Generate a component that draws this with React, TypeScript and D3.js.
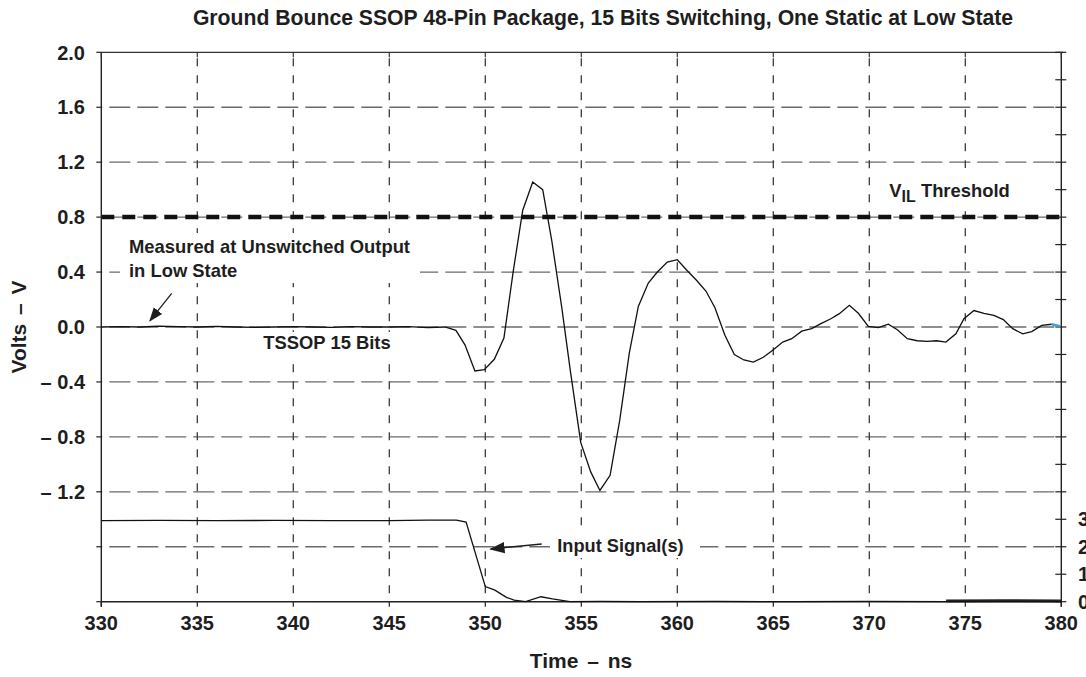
import * as d3 from "d3";

const width = 1086;
const height = 677;

// plot frame
const left = 101.3;
const right = 1061.3;
const top = 52.3;
const bottom = 601.7;

const font = "'Liberation Sans', Arial, Helvetica, sans-serif";
const ink = "#1e1e1e";

const title =
  "Ground Bounce SSOP 48-Pin Package, 15 Bits Switching, One Static at Low State";

const timeTicks = [330, 335, 340, 345, 350, 355, 360, 365, 370, 375, 380];
const voltTicks = [2.0, 1.6, 1.2, 0.8, 0.4, 0.0, -0.4, -0.8, -1.2, -1.6, -2.0];
const voltLabels = ["2.0", "1.6", "1.2", "0.8", "0.4", "0.0", "– 0.4", "– 0.8", "– 1.2", "", ""];
const inputTicks = d3.range(0, 21);
const inputLabels = ["0", "1", "2", "3"];
const thresholdVolts = 0.8;

// ground bounce, measured at the unswitched output (V)
const bounceTime = [
  330, 331, 332, 333, 334, 335, 336, 337, 338, 339, 340, 341, 342, 343, 344, 345, 346, 347,
  347.9, 348.47, 348.94, 349.46, 349.95, 350.47, 350.97, 351.46, 351.95, 352.47, 352.99,
  353.46, 353.98, 354.45, 354.97, 355.49, 355.97, 356.5, 357.0, 357.5, 357.97, 358.49,
  358.96, 359.48, 360.0, 360.52, 361.0, 361.5, 361.96, 362.48, 362.97, 363.47, 363.96,
  364.48, 364.97, 365.49, 365.96, 366.48, 367.0, 367.48, 368.0, 368.44, 368.96, 369.43,
  369.95, 370.47, 370.99, 371.46, 371.98, 372.5, 373.02, 373.5, 373.99, 374.51, 374.93,
  375.45, 375.97, 376.49, 376.98, 377.47, 377.99, 378.46, 378.98, 379.5,
];
const bounceVolts = [
  0, 0.003, 0, 0.006, 0.002, 0, 0.004, 0, -0.003, 0, 0.003, 0, -0.002, 0.002, 0, 0, 0.002,
  -0.005, 0, -0.024, -0.13, -0.32, -0.31, -0.235, -0.08, 0.41, 0.85, 1.055, 1.0, 0.63, 0.145,
  -0.34, -0.84, -1.055, -1.19, -1.08, -0.68, -0.19, 0.15, 0.32, 0.4, 0.473, 0.49, 0.41, 0.34,
  0.26, 0.14, -0.06, -0.2, -0.24, -0.255, -0.22, -0.17, -0.11, -0.085, -0.03, -0.012, 0.025,
  0.06, 0.097, 0.158, 0.1, 0.005, -0.005, 0.02, -0.02, -0.085, -0.1, -0.104, -0.1, -0.11,
  -0.05, 0.06, 0.12, 0.1, 0.085, 0.054, -0.012, -0.05, -0.034, 0.012, 0.02,
];
const tailTime = [379.5, 379.93];
const tailVolts = [0.02, 0.005];

// input signal (right axis, V)
const inputTime = [
  330, 333, 336, 339, 342, 345, 347, 348.5, 349.0, 350.0, 350.5, 351.1, 351.5, 352.1, 352.9,
  353.5, 354.4, 356, 358, 362, 366, 370, 374, 378, 380,
];
const inputVolts = [
  2.95, 2.96, 2.95, 2.96, 2.95, 2.95, 2.97, 2.97, 2.9, 0.55, 0.42, 0.16, 0.06, 0.0, 0.18,
  0.1, 0.0, 0.01, 0.0, 0.01, 0.0, 0.01, 0.0, 0.0, 0.0,
];
// other input traces, mostly hidden under the first one
const otherTime = [374, 377, 380];
const otherVolts = [0.03, 0.04, 0.03];

const x = d3.scaleLinear().domain([330, 380]).range([left, right]);
const y = d3.scaleLinear().domain([-2, 2]).range([bottom, top]);
const yIn = d3.scaleLinear().domain([0, 20]).range([bottom, top]);

const lineOf = (ts: number[], scale: d3.ScaleLinear<number, number>) =>
  d3
    .line<number>()
    .x((_, i) => x(ts[i]))
    .y((v) => scale(v));

const App = () => {
  return (
    <svg
      width={width}
      height={height}
      style={{ position: "absolute", left: 0, top: 0, background: "#fff" }}
      fontFamily={font}
      fontWeight="bold"
      fill={ink}
    >
      <defs>
        <marker id="head" viewBox="0 0 10 10" refX="9" refY="5" markerWidth="11" markerHeight="11" orient="auto">
          <path d="M0,1.3 L10,5 L0,8.7 Z" fill={ink} />
        </marker>
      </defs>

      <text x={603} y={25} fontSize={21.2} textAnchor="middle">
        {title}
      </text>

      {/* horizontal grid */}
      {voltTicks.slice(1, -1).map((v) => (
        <line
          key={"h" + v}
          x1={left}
          x2={right}
          y1={y(v)}
          y2={y(v)}
          stroke="#6a6a6a"
          strokeWidth={1.3}
          strokeDasharray="21 7"
          strokeDashoffset={-8}
        />
      ))}
      {/* vertical grid */}
      {timeTicks.slice(1, -1).map((t) => (
        <line
          key={"v" + t}
          x1={x(t)}
          x2={x(t)}
          y1={top}
          y2={bottom}
          stroke="#3a3a3a"
          strokeWidth={1.3}
          strokeDasharray="8 9"
          strokeDashoffset={-6}
        />
      ))}

      {/* label backgrounds hide the grid */}
      <rect x={120} y={233} width={300} height={50} fill="#fff" />
      <rect x={255} y={332} width={145} height={25} fill="#fff" />
      <rect x={550} y={532} width={150} height={26} fill="#fff" />
      <rect x={882} y={168} width={136} height={40} fill="#fff" />

      {/* V_IL threshold */}
      <line
        x1={left}
        x2={right + 3}
        y1={y(thresholdVolts)}
        y2={y(thresholdVolts)}
        stroke="#111"
        strokeWidth={4.5}
        strokeDasharray="13 8"
      />

      {/* frame */}
      <line x1={left} x2={right + 2} y1={top} y2={top} stroke="#333" strokeWidth={1.3} />
      <line x1={left} x2={right} y1={bottom} y2={bottom} stroke="#222" strokeWidth={1.4} />
      <line x1={left} x2={left} y1={top} y2={bottom + 5} stroke="#222" strokeWidth={1.4} />
      <line x1={right} x2={right} y1={top} y2={bottom + 5} stroke="#222" strokeWidth={1.4} />

      {/* left axis */}
      {voltTicks.map((v, i) => (
        <g key={"l" + v}>
          <line x1={left - 5} x2={left} y1={y(v)} y2={y(v)} stroke="#222" strokeWidth={1.2} />
          {voltLabels[i] && (
            <text x={85} y={y(v)} dy="0.36em" fontSize={20} textAnchor="end">
              {voltLabels[i]}
            </text>
          )}
        </g>
      ))}

      {/* right axis (input signal) */}
      {inputTicks.map((v) => (
        <g key={"r" + v}>
          <line x1={right - 6} x2={right + 5} y1={yIn(v)} y2={yIn(v)} stroke="#222" strokeWidth={1.2} />
          {v < inputLabels.length && (
            <text x={1078} y={yIn(v)} dy="0.36em" fontSize={20}>
              {inputLabels[v]}
            </text>
          )}
        </g>
      ))}

      {/* time axis */}
      {timeTicks.map((t) => (
        <g key={"b" + t}>
          <line x1={x(t)} x2={x(t)} y1={bottom} y2={bottom + 5} stroke="#222" strokeWidth={1.2} />
          <line x1={x(t)} x2={x(t)} y1={top} y2={top + 5} stroke="#333" strokeWidth={1.2} />
          <text x={x(t)} y={630} fontSize={20} textAnchor="middle">
            {t}
          </text>
        </g>
      ))}

      <text x={581} y={668} fontSize={21} wordSpacing={3} textAnchor="middle">
        Time – ns
      </text>
      <text
        transform={`translate(26,${y(0)}) rotate(-90)`}
        fontSize={21}
        wordSpacing={3}
        textAnchor="middle"
      >
        Volts – V
      </text>

      {/* traces */}
      <path d={lineOf(otherTime, yIn)(otherVolts) ?? ""} fill="none" stroke="#222" strokeWidth={2.6} />
      <path d={lineOf(inputTime, yIn)(inputVolts) ?? ""} fill="none" stroke="#111" strokeWidth={1.3} />
      <path d={lineOf(bounceTime, y)(bounceVolts) ?? ""} fill="none" stroke="#111" strokeWidth={1.3} />
      <path d={lineOf(tailTime, y)(tailVolts) ?? ""} fill="none" stroke="#3aa6c8" strokeWidth={2.5} />

      {/* annotations */}
      <text x={129} y={253} fontSize={18.4}>
        Measured at Unswitched Output
      </text>
      <text x={129} y={276.5} fontSize={18.4}>
        in Low State
      </text>
      <line x1={171.7} y1={293.3} x2={150} y2={320.7} stroke={ink} strokeWidth={1.3} markerEnd="url(#head)" />

      <text x={263.3} y={349.3} fontSize={18.4}>
        TSSOP 15 Bits
      </text>

      <text x={557.3} y={551.7} fontSize={18.2}>
        Input Signal(s)
      </text>
      <line x1={541.7} y1={544} x2={490.7} y2={549} stroke={ink} strokeWidth={1.4} markerEnd="url(#head)" />

      <text x={889.3} y={196.7} fontSize={18.4}>
        V<tspan dy={5} fontSize={16}>IL</tspan>
        <tspan dy={-5}> Threshold</tspan>
      </text>
    </svg>
  );
};

export default App;
